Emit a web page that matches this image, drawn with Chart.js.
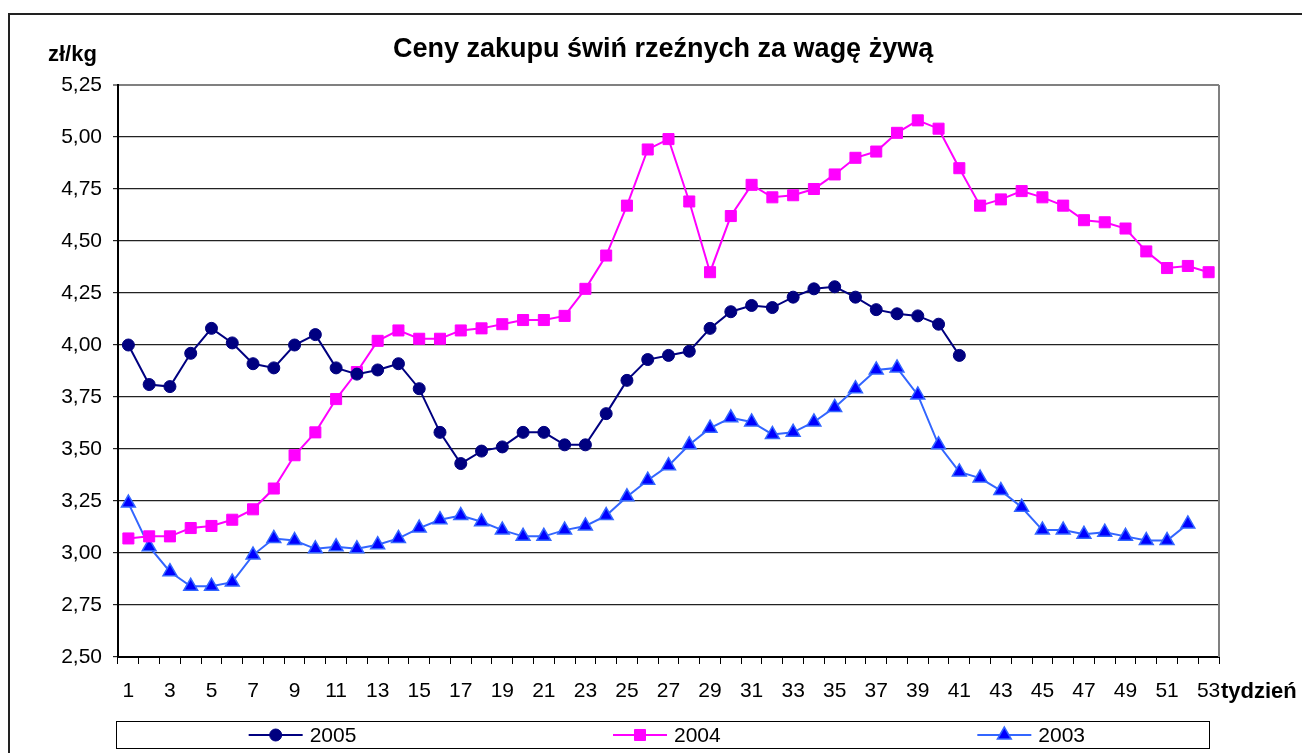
<!DOCTYPE html>
<html>
<head>
<meta charset="utf-8">
<script src="https://cdn.jsdelivr.net/npm/chart.js@4.4.0/dist/chart.umd.min.js"></script>
<style>
  html, body { margin: 0; padding: 0; background: #fff; }
  canvas { display: block; }
</style>
</head>
<body>
<canvas id="mychart" width="1302" height="753"></canvas>
<script>
// tygodnie 1..53
const weeks = ['1', '2', '3', '4', '5', '6', '7', '8', '9', '10', '11', '12', '13', '14', '15', '16', '17', '18',
    '19', '20', '21', '22', '23', '24', '25', '26', '27', '28', '29', '30', '31', '32', '33', '34', '35', '36',
    '37', '38', '39', '40', '41', '42', '43', '44', '45', '46', '47', '48', '49', '50', '51', '52', '53'];

const price2005 = [4.00, 3.81, 3.80, 3.96, 4.08, 4.01, 3.91, 3.89, 4.00, 4.05, 3.89, 3.86, 3.88, 3.91, 3.79,
    3.58, 3.43, 3.49, 3.51, 3.58, 3.58, 3.52, 3.52, 3.67, 3.83, 3.93, 3.95, 3.97, 4.08, 4.16, 4.19, 4.18,
    4.23, 4.27, 4.28, 4.23, 4.17, 4.15, 4.14, 4.10, 3.95];

const price2004 = [3.07, 3.08, 3.08, 3.12, 3.13, 3.16, 3.21, 3.31, 3.47, 3.58, 3.74, 3.87, 4.02, 4.07, 4.03,
    4.03, 4.07, 4.08, 4.10, 4.12, 4.12, 4.14, 4.27, 4.43, 4.67, 4.94, 4.99, 4.69, 4.35, 4.62, 4.77, 4.71,
    4.72, 4.75, 4.82, 4.90, 4.93, 5.02, 5.08, 5.04, 4.85, 4.67, 4.70, 4.74, 4.71, 4.67, 4.60, 4.59, 4.56,
    4.45, 4.37, 4.38, 4.35];

const price2003 = [3.24, 3.03, 2.91, 2.84, 2.84, 2.86, 2.99, 3.07, 3.06, 3.02, 3.03, 3.02, 3.04, 3.07, 3.12,
    3.16, 3.18, 3.15, 3.11, 3.08, 3.08, 3.11, 3.13, 3.18, 3.27, 3.35, 3.42, 3.52, 3.60, 3.65, 3.63, 3.57,
    3.58, 3.63, 3.70, 3.79, 3.88, 3.89, 3.76, 3.52, 3.39, 3.36, 3.30, 3.22, 3.11, 3.11, 3.09, 3.10, 3.08,
    3.06, 3.06, 3.14];

const seriesNames = ['2005', '2004', '2003'];

const FONT = '"Liberation Sans", Arial, sans-serif';

// ramka, tytuł, opisy osi i legenda w stylu Excela
const excelFrame = {
    id: 'excelFrame',
    beforeDraw(chart) {
        const { ctx } = chart;
        ctx.save();
        ctx.fillStyle = '#ffffff';
        ctx.fillRect(0, 0, chart.width, chart.height);
        ctx.restore();
    },
    afterDraw(chart) {
        const { ctx, chartArea } = chart;
        ctx.save();

        // zewnętrzna ramka wykresu
        ctx.strokeStyle = '#222222';
        ctx.lineWidth = 2;
        ctx.beginPath();
        ctx.moveTo(9, chart.height);
        ctx.lineTo(9, 14);
        ctx.lineTo(chart.width, 14);
        ctx.stroke();

        // prawa krawędź obszaru kreślenia
        ctx.strokeStyle = '#808080';
        ctx.beginPath();
        ctx.moveTo(chartArea.right, chartArea.top);
        ctx.lineTo(chartArea.right, chartArea.bottom);
        ctx.stroke();

        ctx.fillStyle = '#000000';
        ctx.textBaseline = 'alphabetic';
        ctx.textAlign = 'left';
        ctx.font = `bold 27px ${FONT}`;
        ctx.fillText('Ceny zakupu świń rzeźnych za wagę żywą', 393, 57);

        ctx.font = `bold 22px ${FONT}`;
        ctx.fillText('zł/kg', 48, 61);
        ctx.fillText('tydzień', 1221, 698);

        // legenda
        const box = { left: 116.5, top: 721.5, width: 1093, height: 27 };
        ctx.strokeStyle = '#000000';
        ctx.lineWidth = 1;
        ctx.strokeRect(box.left, box.top, box.width, box.height);

        const cy = box.top + box.height / 2;
        chart.data.datasets.forEach((ds, i) => {
            const startX = box.left + (i + 0.5) * box.width / 3 - 50;
            ctx.strokeStyle = ds.borderColor;
            ctx.lineWidth = 2;
            ctx.beginPath();
            ctx.moveTo(startX, cy);
            ctx.lineTo(startX + 54, cy);
            ctx.stroke();

            ctx.fillStyle = ds.pointBackgroundColor;
            ctx.strokeStyle = ds.pointBorderColor;
            ctx.lineWidth = ds.pointBorderWidth;
            Chart.helpers.drawPoint(ctx, {
                pointStyle: ds.pointStyle,
                radius: ds.pointRadius,
                borderWidth: ds.pointBorderWidth,
                rotation: 0
            }, startX + 27, cy);

            ctx.fillStyle = '#000000';
            ctx.font = `21px ${FONT}`;
            ctx.textBaseline = 'middle';
            ctx.fillText(ds.label, startX + 61, cy + 1);
        });

        ctx.restore();
    }
};

new Chart(document.getElementById('mychart'), {
    type: 'line',
    plugins: [excelFrame],
    data: {
        labels: weeks,
        datasets: [
            {
                label: seriesNames[0],
                data: price2005,
                borderColor: '#000080',
                borderWidth: 2,
                pointStyle: 'circle',
                pointRadius: 6,
                pointBackgroundColor: '#000080',
                pointBorderColor: '#000080',
                pointBorderWidth: 1,
                tension: 0
            },
            {
                label: seriesNames[1],
                data: price2004,
                borderColor: '#ff00ff',
                borderWidth: 2,
                pointStyle: 'rect',
                pointRadius: 7.8,
                pointBackgroundColor: '#ff00ff',
                pointBorderColor: '#ff00ff',
                pointBorderWidth: 1,
                tension: 0
            },
            {
                label: seriesNames[2],
                data: price2003,
                borderColor: '#3366ff',
                borderWidth: 2,
                pointStyle: 'triangle',
                pointRadius: 8,
                pointBackgroundColor: '#0000ff',
                pointBorderColor: '#3366ff',
                pointBorderWidth: 1.5,
                tension: 0
            }
        ]
    },
    options: {
        responsive: false,
        maintainAspectRatio: false,
        animation: false,
        layout: {
            padding: { top: 85, left: 0, right: 83, bottom: 0 }
        },
        plugins: {
            legend: { display: false },
            title: { display: false },
            tooltip: { enabled: false }
        },
        scales: {
            x: {
                type: 'category',
                offset: true,
                afterFit(scale) {
                    scale.height = 96;
                },
                grid: {
                    offset: true,
                    drawOnChartArea: false,
                    drawTicks: true,
                    tickLength: 7,
                    color: '#000000',
                    lineWidth: 1
                },
                border: { color: '#000000', width: 2 },
                ticks: {
                    autoSkip: false,
                    maxRotation: 0,
                    minRotation: 0,
                    padding: 15,
                    color: '#000000',
                    font: { family: FONT, size: 21 },
                    // co drugi tydzień
                    callback(value, index) {
                        return index % 2 === 0 ? this.getLabelForValue(value) : '';
                    }
                }
            },
            y: {
                min: 2.5,
                max: 5.25,
                afterFit(scale) {
                    scale.width = 118;
                },
                grid: {
                    drawTicks: true,
                    tickLength: 5,
                    color(context) {
                        return context.tick && context.tick.value === 5.25 ? '#808080' : '#222222';
                    },
                    lineWidth(context) {
                        return context.tick && context.tick.value === 5.25 ? 2 : 1.2;
                    }
                },
                border: { color: '#000000', width: 2 },
                ticks: {
                    stepSize: 0.25,
                    padding: 11,
                    color: '#000000',
                    font: { family: FONT, size: 21 },
                    callback(value) {
                        return value.toFixed(2).replace('.', ',');
                    }
                }
            }
        }
    }
});
</script>
</body>
</html>
